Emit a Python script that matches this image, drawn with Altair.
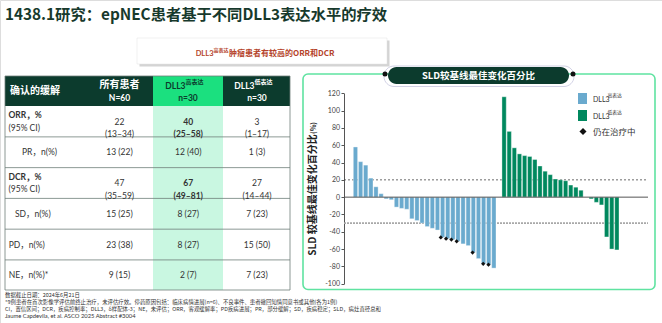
import altair as alt
import pandas as pd

# ---------------- data ----------------
blue_vals = [58, 41, 37, 22, 12, 4, -2, -3, -11.5, -13, -14, -25, -27, -30, -34, -36, -38,
             -46.5, -48, -49, -51, -54, -56, -64, -71, -77, -78, -82]
green_vals = [116, 76, 57, 50, 48, 47, 43.5, 36, 30, 26, 21, 20, 19, 14, 11.5, 8, 0,
              -2, -6, -9, -46, -60, -61]
ongoing_idx = [17, 18, 19, 20, 23, 25, 26]
groups = ["DLL3高表达", "DLL3低表达"]
y_ticks = list(range(-100, 121, 20))
ref_zero = [0]
ref_upper = [20]
ref_lower = [-30]

row_labels = ["ORR，%", "PR，n(%)", "DCR，%", "SD，n(%)", "PD，n(%)", "NE，n(%)*"]
ci_label = "(95% CI)"
col_all = ["22\n(13–34)", "13 (22)", "47\n(35–59)", "15 (25)", "23 (38)", "9 (15)"]
col_high = ["40\n(25–58)", "12 (40)", "67\n(49–81)", "8 (27)", "8 (27)", "2 (7)"]
col_low = ["3\n(1–17)", "1 (3)", "27\n(14–44)", "7 (23)", "15 (50)", "7 (23)"]
row_bounds = [0.5, 1.5, 2.5, 3.5, 4.5]

title = "1438.1研究：epNEC患者基于不同DLL3表达水平的疗效"
subtitle_main = "肿瘤患者有较高的ORR和DCR"
footnotes = [
    "数据截止日期：2024年6月21日",
    "*9例患者在首次影像学评估前终止治疗，未评估疗效。停药原因包括：临床病情进展(n=6)、不良事件、患者撤回知情同意书或其他(各为1例)",
    "CI，置信区间；DCR，疾病控制率；DLL3，δ样配体-3；NE，未评估；ORR，客观缓解率；PD疾病进展；PR，部分缓解；SD，疾病稳定；SLD，病灶直径总和",
    "Jaume Capdevila, et al. ASCO 2025 Abstract #3004",
]

# ---------------- styles ----------------
FONT = "Lato, 'Noto Sans CJK SC', sans-serif"
CJK = "'Noto Sans CJK SC', sans-serif"
BLUE = "#6AAACE"
GREEN = "#00885E"
DARK = "#0C3B2D"
MINT = "#5FE3A1"

one = pd.DataFrame({"k": [0]})


def rect(x, x2, y, y2, **kw):
    return alt.Chart(one).mark_rect(**kw).encode(
        x=alt.value(x), x2=alt.value(x2), y=alt.value(y), y2=alt.value(y2))


def txt(s, x, y, **kw):
    kw.setdefault("font", FONT)
    kw.setdefault("baseline", "middle")
    return alt.Chart(one).mark_text(text=s, **kw).encode(x=alt.value(x), y=alt.value(y))


layers = []

# title & subtitle
layers.append(txt(title, 5, 15, font=CJK, fontSize=15.3, fontWeight="bold", color="#17392C", align="left"))
layers.append(rect(139.5, 389.5, 40.5, 66.5, fill="#B0B0B0", opacity=0.55))
layers.append(rect(137, 387, 38, 64, fill="white", stroke="#E2E2E2", strokeWidth=0.5))
SUB = "#B5442B"
layers.append(txt("DLL3", 213.5, 53.5, fontSize=7.5, fontWeight="bold", color=SUB, align="right"))
layers.append(txt("高表达", 213.5, 50, font=CJK, fontSize=5, fontWeight="bold", color=SUB, align="left"))
layers.append(txt(subtitle_main, 229, 53.5, font=CJK, fontSize=8, fontWeight="bold", color=SUB, align="left"))

# ---------------- table ----------------
layers.append(rect(153, 223, 106, 290, fill="#C9F7E1"))
layers.append(rect(5, 290, 76, 106, fill=DARK))
layers.append(rect(153, 223, 76, 106, fill="#1BE07F"))
layers.append(rect(5, 290, 76, 290, fillOpacity=0, stroke="#6F7F7A", strokeWidth=0.8))

ty = alt.Scale(domain=[0, 5], range=[121.5, 275.3], nice=False, zero=False)
tx = alt.Scale(domain=[1, 3], range=[119.5, 257], nice=False, zero=False)

sep_df = pd.DataFrame({"r": row_bounds})
layers.append(alt.Chart(sep_df).mark_rule(color="#6F7F7A", strokeWidth=0.8).encode(
    x=alt.value(5), x2=alt.value(290), y=alt.Y("r:Q", scale=ty, axis=None)))

# header
layers.append(txt("确认的缓解", 10, 91, font=CJK, fontSize=10, fontWeight="bold", color="white", align="left"))
layers.append(txt("所有患者", 119.5, 85, font=CJK, fontSize=10, fontWeight="bold", color="white", align="center"))
layers.append(txt("N=60", 119.5, 97.5, fontSize=8.5, fontWeight="bold", color="white", align="center"))
layers.append(txt("DLL3", 185.5, 85.5, fontSize=8.5, fontWeight="bold", color=DARK, align="right"))
layers.append(txt("高表达", 185.5, 81.5, font=CJK, fontSize=6, fontWeight="bold", color=DARK, align="left"))
layers.append(txt("n=30", 188, 97.5, fontSize=8.5, fontWeight="bold", color=DARK, align="center"))
layers.append(txt("DLL3", 254.5, 85.5, fontSize=8.5, fontWeight="bold", color="white", align="right"))
layers.append(txt("低表达", 254.5, 81.5, font=CJK, fontSize=6, fontWeight="bold", color="white", align="left"))
layers.append(txt("n=30", 257, 97.5, fontSize=8.5, fontWeight="bold", color="white", align="center"))

# body cells
cells = []
for c, col in enumerate([col_all, col_high, col_low], start=1):
    for r, s in enumerate(col):
        cells.append({"col": c, "row": r, "txt": s})
cells_df = pd.DataFrame(cells)
bold_test = "datum.col == 2 && (datum.row == 0 || datum.row == 2)"
for test, weight in [("!(" + bold_test + ")", "normal"), (bold_test, "bold")]:
    layers.append(alt.Chart(cells_df).transform_filter(test).mark_text(
        font=FONT, fontSize=8.5, fontWeight=weight, color="#333333", lineBreak="\n",
        lineHeight=12.6, baseline="middle", align="center").encode(
        x=alt.X("col:Q", scale=tx, axis=None),
        y=alt.Y("row:Q", scale=ty, axis=None),
        text="txt:N"))

lab_df = pd.DataFrame({"row": list(range(len(row_labels))), "lab": row_labels})
lab_specs = [
    ("datum.row == 0 || datum.row == 2", 8.5, "bold", -6.3),
    ("datum.row == 1", 22, "normal", 0),
    ("datum.row == 3", 15, "normal", 0),
    ("datum.row >= 4", 8.7, "normal", 0),
]
for test, xpos, weight, dy in lab_specs:
    layers.append(alt.Chart(lab_df).transform_filter(test).mark_text(
        font=FONT, fontSize=8.5, fontWeight=weight, color="#333333", align="left",
        baseline="middle", dy=dy).encode(
        x=alt.value(xpos), y=alt.Y("row:Q", scale=ty, axis=None), text="lab:N"))
ci_df = pd.DataFrame({"row": [0, 2], "lab": [ci_label, ci_label]})
layers.append(alt.Chart(ci_df).mark_text(
    font=FONT, fontSize=8.5, color="#333333", align="left", baseline="middle", dy=6.3).encode(
    x=alt.value(8.5), y=alt.Y("row:Q", scale=ty, axis=None), text="lab:N"))

# footnotes
for i, (s, yy) in enumerate(zip(footnotes, [294.5, 301.6, 308.7, 315.8])):
    layers.append(txt(s, 5, yy, font=CJK if i < 3 else FONT,
                      fontSize=5.4 if i < 3 else 5.8, color="#333333", align="left"))

# ---------------- waterfall panel ----------------
layers.append(rect(303, 655, 74, 289.5, fillOpacity=0, stroke=MINT, strokeWidth=1.6, cornerRadius=5))
layers.append(rect(384, 574, 66, 86.5, fillOpacity=0, stroke="#C5C5DD", strokeWidth=0.8, cornerRadius=10))
layers.append(rect(388, 569, 67, 84, fill=DARK, cornerRadius=8.5))
layers.append(txt("SLD较基线最佳变化百分比", 478.5, 75.5, font=CJK, fontSize=9.5, fontWeight="bold",
                  color="white", align="center"))
dots = alt.Chart(one).mark_circle(size=25, color="#111111", opacity=1)
layers.append(dots.encode(x=alt.value(385), y=alt.value(74)))
layers.append(dots.encode(x=alt.value(573), y=alt.value(74)))

xs = alt.Scale(domain=[-1.26, 56.1], range=[344, 648], nice=False, zero=False)
ys = alt.Scale(domain=[-100, 120], range=[283.7, 93.3], nice=False, zero=False)

idx = list(range(len(blue_vals))) + [len(blue_vals) + 1 + i for i in range(len(green_vals))]
bars_df = pd.DataFrame({
    "idx": idx,
    "val": blue_vals + green_vals,
    "grp": [groups[0]] * len(blue_vals) + [groups[1]] * len(green_vals),
})

for vals, color, width, dash in [(ref_lower, "#A8A8A8", 1.6, [2, 1]),
                                 (ref_upper, "#444444", 0.8, [2, 2])]:
    layers.append(alt.Chart(pd.DataFrame({"v": vals})).mark_rule(
        color=color, strokeWidth=width, strokeDash=dash).encode(
        x=alt.value(344), x2=alt.value(648), y=alt.Y("v:Q", scale=ys, axis=None)))

layers.append(alt.Chart(bars_df).mark_bar(size=4.3, stroke="white", strokeWidth=0.6, strokeOpacity=0.6).encode(
    x=alt.X("idx:Q", scale=xs, axis=None),
    y=alt.Y("val:Q", scale=ys, axis=alt.Axis(
        values=y_ticks, orient="left", offset=-344, tickSize=3, labelFontSize=7,
        labelColor="#444444", labelFont=FONT, domainColor="#555555", tickColor="#555555",
        grid=False, title=None, labelPadding=1.5, labelExpr="'' + datum.value")),
    y2=alt.datum(0),
    color=alt.Color("grp:N", scale=alt.Scale(domain=groups, range=[BLUE, GREEN]), legend=None),
))

layers.append(alt.Chart(pd.DataFrame({"v": ref_zero})).mark_rule(color="#555555", strokeWidth=1).encode(
    x=alt.value(344), x2=alt.value(648), y=alt.Y("v:Q", scale=ys, axis=None)))

ong_df = pd.DataFrame({"idx": ongoing_idx, "val": [blue_vals[i] for i in ongoing_idx]})
layers.append(alt.Chart(ong_df).mark_point(shape="diamond", filled=True, size=18, color="#111111", opacity=1).encode(
    x=alt.X("idx:Q", scale=xs, axis=None), y=alt.Y("val:Q", scale=ys, axis=None)))

# y-axis title
layers.append(txt("SLD 较基线最佳变化百分比", 313, 195, font=CJK, fontSize=10, fontWeight="bold",
                  color="#222222", align="center", angle=270))
layers.append(txt("(%)", 313.5, 128, font=CJK, fontSize=7, fontWeight="bold",
                  color="#222222", align="center", angle=270))

# legend
layers.append(rect(578, 587, 93, 104, fill=BLUE))
layers.append(rect(578, 587, 110, 121, fill=GREEN))
layers.append(alt.Chart(one).mark_point(shape="diamond", filled=True, size=50, color="#111111", opacity=1).encode(
    x=alt.value(583), y=alt.value(131.5)))
layers.append(txt("DLL3", 593, 99.5, fontSize=7, color="#333333", align="left"))
layers.append(txt("高表达", 607.5, 95.5, font=CJK, fontSize=4.8, color="#333333", align="left"))
layers.append(txt("DLL3", 593, 116.5, fontSize=7, color="#333333", align="left"))
layers.append(txt("低表达", 607.5, 112.5, font=CJK, fontSize=4.8, color="#333333", align="left"))
layers.append(txt("仍在治疗中", 593, 132, font=CJK, fontSize=8.5, color="#333333", align="left"))

chart = alt.layer(*layers).resolve_scale(
    x="independent", y="independent", color="independent"
).properties(
    width=662, height=323, autosize=alt.AutoSizeParams(type="none"), padding=0
).configure_view(stroke=None).configure(background="white")

chart.save("out.html", embed_options={"renderer": "svg", "actions": False})
